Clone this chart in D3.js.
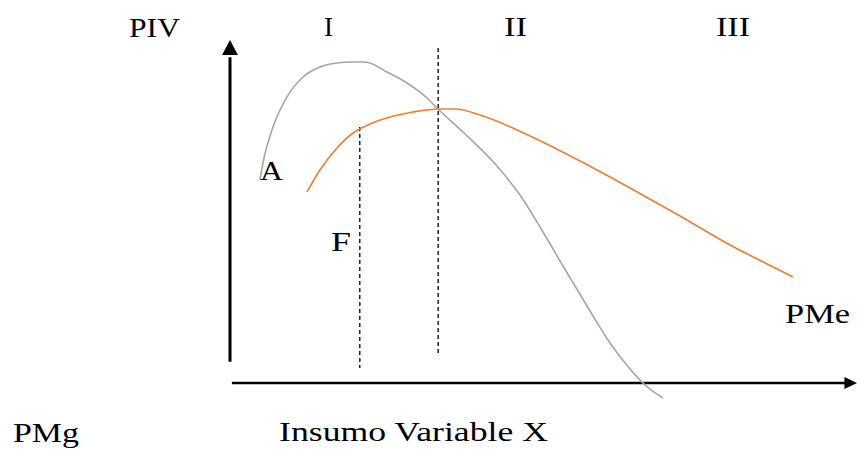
<!DOCTYPE html>
<html>
<head>
<meta charset="utf-8">
<script src="https://cdn.jsdelivr.net/npm/d3@7"></script>
<style>
  html, body { margin: 0; padding: 0; background: #fff; }
  svg { display: block; }
</style>
</head>
<body>
<svg id="chart" width="857" height="450"></svg>
<script>
// ---- Data (x = variable input, y = product) ----
const pmgX = [4.78, 5.26, 6.86, 9.09, 11.64, 14.35, 17.07, 19.46, 21.53, 25.04, 28.23, 31.42, 33.17, 37.16, 42.58, 46.25, 49.92, 53.11, 56.94, 60.61, 63.80, 66.19, 69.06];
const pmgY = [59.18, 64.14, 74.64, 83.38, 89.21, 92.13, 93.29, 93.59, 93.59, 90.67, 87.46, 83.09, 79.88, 73.18, 63.27, 54.81, 44.02, 34.11, 22.45, 11.66, 4.08, -0.58, -4.37];

const pmeX = [12.28, 14.35, 17.07, 19.62, 22.33, 25.52, 29.19, 33.17, 35.89, 39.87, 47.85, 55.82, 63.80, 71.77, 79.74, 85.33, 89.79];
const pmeY = [55.69, 62.10, 68.51, 72.89, 75.51, 77.55, 79.01, 79.88, 79.88, 78.13, 72.01, 64.72, 56.85, 48.69, 40.23, 34.99, 30.90];

// dashed stage boundaries: x position, top y, bottom y
const dashX = [20.7, 33.2];
const dashTop = [74.6, 97.7];
const dashBottom = [4.4, 8.2];

const stageLabels = ["I", "II", "III"];
const cornerLabel = "PIV";
const pointLabels = ["A", "F"];
const pmeLabel = "PMe";
const pmgLabel = "PMg";
const xAxisLabel = "Insumo Variable X";

// ---- Scales ----
const svg = d3.select("#chart");
const x = d3.scaleLinear().domain([0, 100]).range([230, 857]);
const y = d3.scaleLinear().domain([0, 100]).range([383, 40]);

// ---- Axes (arrows) ----
svg.append("line")
  .attr("x1", x(0)).attr("x2", x(0))
  .attr("y1", y(6.2)).attr("y2", y(95))
  .attr("stroke", "#000").attr("stroke-width", 3);
svg.append("path")
  .attr("d", `M${x(0)},${y(100)} L${x(0) - 8},${y(95.6)} L${x(0) + 8},${y(95.6)} Z`)
  .attr("fill", "#000");

svg.append("line")
  .attr("x1", x(0.3)).attr("x2", x(98.5))
  .attr("y1", y(0)).attr("y2", y(0))
  .attr("stroke", "#000").attr("stroke-width", 2.5);
svg.append("path")
  .attr("d", `M${x(100)},${y(0)} L${x(98)},${y(0) - 6} L${x(98)},${y(0) + 6} Z`)
  .attr("fill", "#000");

// ---- Dashed lines ----
svg.selectAll("line.dash")
  .data(dashX.map((d, i) => ({ x: d, t: dashTop[i], b: dashBottom[i] })))
  .join("line")
  .attr("class", "dash")
  .attr("x1", d => x(d.x)).attr("x2", d => x(d.x))
  .attr("y1", d => y(d.t)).attr("y2", d => y(d.b))
  .attr("stroke", "#000").attr("stroke-width", 1.3)
  .attr("stroke-dasharray", "4,3");

// ---- Curves ----
const line = d3.line().x(d => x(d[0])).y(d => y(d[1])).curve(d3.curveMonotoneX);

svg.append("path")
  .datum(pmgX.map((d, i) => [d, pmgY[i]]))
  .attr("d", line)
  .attr("fill", "none")
  .attr("stroke", "#a5a5a5")
  .attr("stroke-width", 1.6);

svg.append("path")
  .datum(pmeX.map((d, i) => [d, pmeY[i]]))
  .attr("d", line)
  .attr("fill", "none")
  .attr("stroke", "#ed7d31")
  .attr("stroke-width", 1.6);

// ---- Text labels ----
function label(txt, px, py, w) {
  svg.append("text")
    .attr("x", px).attr("y", py)
    .attr("font-family", "'Liberation Serif', 'Times New Roman', Times, serif")
    .attr("font-size", 28)
    .attr("fill", "#000")
    .attr("textLength", w)
    .attr("lengthAdjust", "spacingAndGlyphs")
    .text(txt);
}
label(cornerLabel, 129, 37, 51);
label(stageLabels[0], 324, 36, 9);
label(stageLabels[1], 504, 36, 23);
label(stageLabels[2], 716, 36, 34);
label(pointLabels[0], 260, 180, 23);
label(pointLabels[1], 331, 251, 20);
label(pmeLabel, 785, 323, 65);
label(pmgLabel, 13, 442, 66);
label(xAxisLabel, 279, 441, 269);
</script>
</body>
</html>
